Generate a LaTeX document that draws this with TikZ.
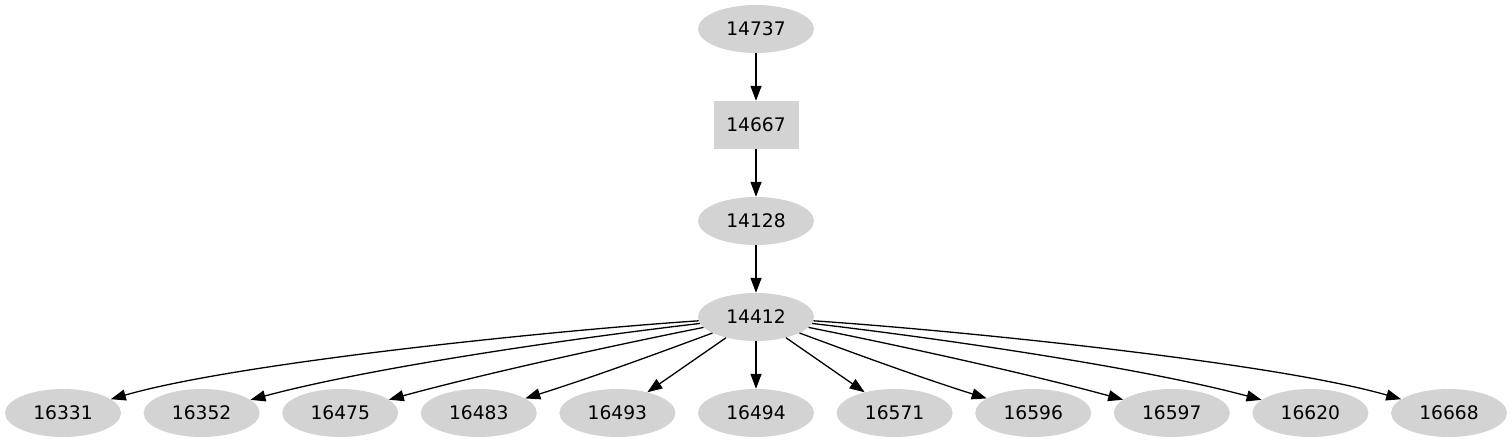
\documentclass[tikz,border=0pt]{standalone}
\usepackage{fontspec}
\setmainfont{DejaVu Sans}
\usetikzlibrary{arrows.meta,shapes.geometric}
\definecolor{nodegray}{HTML}{D3D3D3}
\begin{document}
\begin{tikzpicture}[x=1pt,y=-1pt,
  ell/.style={ellipse,fill=nodegray,minimum width=116pt,minimum height=48pt,inner sep=0pt,font=\fontsize{18.67}{22}\selectfont},
  boxn/.style={rectangle,fill=nodegray,minimum width=85pt,minimum height=48pt,inner sep=0pt,font=\fontsize{18.67}{22}\selectfont},
  edge/.style={line width=1.3pt,-{Triangle[length=15pt,width=11pt]}}]
\useasboundingbox (0,0) rectangle (1512,443);
\node[ell] (n14737) at (756,29) {14737};
\node[boxn] (n14667) at (756,125) {14667};
\node[ell] (n14128) at (756,221) {14128};
\node[ell] (n14412) at (756,317) {14412};
\node[ell] (n16331) at (63,413) {16331};
\node[ell] (n16352) at (201.6,413) {16352};
\node[ell] (n16475) at (340.2,413) {16475};
\node[ell] (n16483) at (478.8,413) {16483};
\node[ell] (n16493) at (617.4,413) {16493};
\node[ell] (n16494) at (756,413) {16494};
\node[ell] (n16571) at (894.6,413) {16571};
\node[ell] (n16596) at (1033.2,413) {16596};
\node[ell] (n16597) at (1171.8,413) {16597};
\node[ell] (n16620) at (1310.4,413) {16620};
\node[ell] (n16668) at (1449,413) {16668};
\draw[edge] (n14737) -- (n14667);
\draw[edge] (n14667) -- (n14128);
\draw[edge] (n14128) -- (n14412);
\draw[edge] (n14412) .. controls (560,330) and (240,362) .. (n16331);
\draw[edge] (n14412) .. controls (600,335) and (380,365) .. (n16352);
\draw[edge] (n14412) .. controls (630,342) and (490,372) .. (n16475);
\draw[edge] (n14412) .. controls (680,345) and (600,375) .. (n16483);
\draw[edge] (n14412) -- (n16493);
\draw[edge] (n14412) -- (n16494);
\draw[edge] (n14412) -- (n16571);
\draw[edge] (n14412) .. controls (832,345) and (912,375) .. (n16596);
\draw[edge] (n14412) .. controls (882,342) and (1022,372) .. (n16597);
\draw[edge] (n14412) .. controls (912,335) and (1132,365) .. (n16620);
\draw[edge] (n14412) .. controls (952,330) and (1272,362) .. (n16668);
\end{tikzpicture}
\end{document}
